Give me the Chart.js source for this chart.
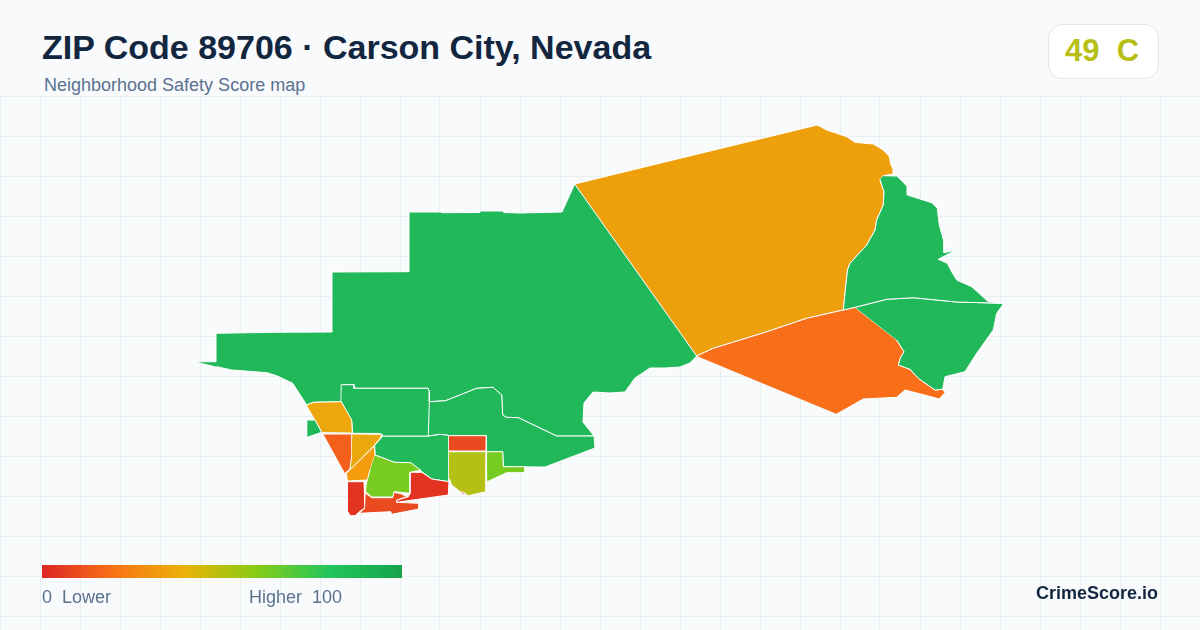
<!DOCTYPE html>
<html>
<head>
<meta charset="utf-8">
<title>ZIP Code 89706</title>
<script src="https://cdn.jsdelivr.net/npm/chart.js@4"></script>
<style>
  html, body { margin:0; padding:0; width:1200px; height:630px; overflow:hidden; background:#f8fafc; font-family:"Liberation Sans", Arial, sans-serif; }
  .txt { position:absolute; white-space:pre; line-height:1; z-index:2; }
  #title { left:42px; top:30px; font-size:34px; font-weight:700; color:#12263f; }
  #subtitle { left:44px; top:76px; font-size:18px; color:#5a7190; }
  #badge { position:absolute; left:1048px; top:24px; width:109px; height:53px; border:1px solid #e2e8f0; border-radius:14px; background:#fff; z-index:2; }
  #score { left:1065px; top:35px; font-size:31px; font-weight:700; color:#b7bf14; }
  #ramp { position:absolute; left:42px; top:565px; width:360px; height:13px; z-index:2;
    background:linear-gradient(90deg,#dc2626 0%,#f97316 20%,#eab308 40%,#84cc16 60%,#22c55e 80%,#16a34a 100%); }
  #lower { left:42px; top:588px; font-size:18px; color:#5a7190; }
  #higher { left:249px; top:588px; font-size:18px; color:#5a7190; }
  #brand { right:42px; top:584px; font-size:18px; font-weight:700; color:#12263f; }
  #wrap { position:absolute; left:0; top:96px; width:1200px; height:534px; }
</style>
</head>
<body>
<div id="title" class="txt">ZIP Code 89706 · Carson City, Nevada</div>
<div id="subtitle" class="txt">Neighborhood Safety Score map</div>
<div id="badge"></div>
<div id="score" class="txt">49  C</div>
<div id="wrap"><canvas id="map"></canvas></div>
<div id="ramp"></div>
<div id="lower" class="txt">0  Lower</div>
<div id="higher" class="txt">Higher  100</div>
<div id="brand" class="txt">CrimeScore.io</div>

<script>
// region outlines
const westMain = [[196.7,361.7],[216,361.7],[216,333.3],[273,332.3],[332,332],[332,272],[409,271.7],[409,212],[442,212],[442,212.7],[480,212.5],[480,211],[504,211],[504,212.5],[520,213],[562,212],[574.7,184],[696.7,356],[690,363],[680,367],[665,368],[650,368],[635,378],[625,392],[610,393],[593,392],[584,403],[583,422],[594,436],[556.7,436],[518.3,417.7],[506,417.3],[502.7,415],[501.7,395],[493,387.3],[476.7,388.3],[445.7,400.7],[429.3,401.7],[429.3,391.7],[428,388.3],[354,388.3],[354,384.7],[341.7,384.7],[341.3,401.7],[313.3,402.3],[306.7,405],[292.7,383.3],[276.7,375.7],[266.7,372.7],[231.7,370],[216.7,366.7]];
const boxGreen = [[341.7,384.7],[354,384.7],[354,388.3],[428,388.3],[429.3,391.7],[429.3,401.7],[428.3,436],[383.3,436],[380,433.5],[352.7,433.3],[351.7,421],[341.3,401.7]];
const midGreen = [[429.3,401.7],[445.7,400.7],[476.7,388.3],[493,387.3],[501.7,395],[502.7,415],[506,417.3],[518.3,417.7],[556.7,436],[594,436],[595,448],[545,467],[503.3,466.7],[502.7,451.7],[486.7,451.7],[486.3,435.7],[449,435.7],[447.7,435],[439.3,434.3],[428.3,436]];
const southGreen = [[383.3,436],[428.3,436],[439.3,434.3],[447.7,435],[449,435.7],[449,481.7],[431.7,479],[418.3,469],[410.7,462.7],[394.3,462.3],[375,455],[374.7,446]];
const smallGreen = [[307.3,420],[315,420],[321.7,432.3],[307.3,437.3]];
const squareRed = [[449,435.7],[486.3,435.7],[486.3,451],[449,451]];
const oliveBlock = [[449,451.7],[486.7,451.7],[486,491.7],[468.3,495.7],[460,491.7],[451.7,485],[449,478.3]];
const oliveSpeck = [[461,491.5],[465,493],[465.5,495],[462,493.5]];
const limeEast = [[486.7,451.7],[502.7,451.7],[503.3,466.7],[525,466.7],[525,472.7],[506.7,472.7],[487.3,481.7]];
const limeCenter = [[375,455],[394.3,462.3],[410.7,462.7],[420.7,470],[410,472.3],[410,493.3],[394.3,491.7],[392.7,497],[371.7,497],[365.7,491.7],[366,485],[370,470]];
const redEast = [[410,472.3],[421.7,472.3],[431.7,479],[449,481.7],[448.3,495],[396.7,502.3],[396.7,500.3],[408.3,496.7],[410,493.3]];
const redSouth = [[365.7,493.3],[371.7,497.7],[392.7,497.7],[393.3,492.3],[401,493.7],[403.3,495],[408,496],[396.7,500.3],[396.7,502.3],[419,503.3],[419,509],[391.7,514.3],[390.7,511.7],[359.3,513.3],[365,507.7]];
const redWest = [[348,481.7],[364,481.7],[365,507.7],[359.3,511.7],[355,515.7],[350,515.7],[348,511.7]];
const amberLow = [[346.7,473],[374.3,446],[375,455],[370,470],[368,480],[348,481]];
const amberMid = [[352.3,434],[382.3,434.3],[380,438.3],[374,445.7],[350,470],[351.7,455]];
const wedgeRed = [[323.3,434],[352.3,434],[352,458],[350,469],[345,473.3]];
const amberTop = [[306.7,405],[313.3,402.3],[341.3,401.7],[351.7,420],[352.3,433],[322.7,432.7]];
const amberNorth = [[574.7,184],[680,158.3],[817.3,125],[826.7,130],[846.7,136.7],[855,142.3],[873.3,144],[883.3,150],[889.3,156.7],[891,165],[893.3,170],[893.3,174],[883.3,175.7],[880,179.3],[881.7,185],[884,191.7],[883.3,205],[876.7,220],[875,230],[866.7,245],[850,263.3],[847.5,270],[845.7,286.7],[843.3,310],[806.7,318.3],[763,333],[713.3,348.3],[696.7,356]];
const eastNorth = [[883.3,175.7],[896.7,176],[902.7,181.7],[907.3,186.7],[907.3,195],[931.7,202.7],[937.3,208.3],[939.3,225],[944,241.7],[944,252.7],[956,250],[938.3,259.3],[947.3,263.3],[951.7,271.7],[956.7,280],[971.7,286.7],[988.3,301.7],[1003,303.3],[956.7,302],[913.3,297.7],[886.7,299.3],[855,307.3],[843.3,310],[845.7,286.7],[847.5,270],[850,263.3],[866.7,245],[875,230],[876.7,220],[883.3,205],[884,191.7],[881.7,185],[880,179.3]];
const eastSouth = [[855,307.3],[886.7,299.3],[913.3,297.7],[956.7,302],[1003,303.3],[1002.7,305],[996.7,313.3],[993.3,330],[976.7,353.3],[965,371.7],[945,376.7],[942.7,389.3],[935,390],[918.3,378.3],[910,369.3],[898.3,365],[900.7,357.3],[904,351.7],[896.7,340]];
const orangeSouth = [[696.7,356],[713.3,348.3],[763,333],[806.7,318.3],[843.3,310],[855,307.3],[896.7,340],[904,351.7],[900.7,357.3],[898.3,365],[910,369.3],[918.3,378.3],[935,390],[942.7,389.3],[945,392.7],[939.3,399],[928.3,396],[905,390],[896.7,397.3],[863.3,399],[836.7,414]];

// first entry is drawn on top
const outlines = [oliveSpeck, smallGreen, squareRed, oliveBlock, limeEast, limeCenter, redEast, redSouth, redWest, amberLow, amberMid, wedgeRed, amberTop, boxGreen, midGreen, southGreen, westMain, eastNorth, eastSouth, orangeSouth, amberNorth];
const fillColors = ['#e1331f','#21b85a','#ea4a20','#b4c014','#76cc20','#76cc20','#e1331f','#ea4a20','#e1331f','#f59c0e','#eaa80c','#f4601c','#eda60c','#21b85a','#21b85a','#21b85a','#21b85a','#21b85a','#21b85a','#f96e18','#ee9f0c'];
const gridColor = '#e8eff3';

const datasets = outlines.map((pts, i) => ({
  data: pts.map(p => ({x:p[0], y:p[1]})),
  showLine: true,
  fill: 'shape',
  backgroundColor: fillColors[i],
  borderColor: '#ffffff',
  borderWidth: 1,
  pointRadius: 0,
  pointHoverRadius: 0,
  tension: 0
}));

function gridTicks(start, end){
  const out = [];
  for(let v = start; v <= end; v += 40) out.push({value:v});
  return out;
}

new Chart(document.getElementById('map').getContext('2d'), {
  type: 'scatter',
  data: { datasets },
  options: {
    responsive: true,
    maintainAspectRatio: false,
    animation: false,
    events: [],
    layout: { padding: 0 },
    plugins: { legend:{display:false}, tooltip:{enabled:false} },
    scales: {
      x: {
        min: 0, max: 1200,
        afterBuildTicks: axis => { axis.ticks = gridTicks(0, 1200); },
        ticks: { display:false },
        border: { display:false },
        grid: { color:gridColor, lineWidth:1, drawTicks:false }
      },
      y: {
        min: 96, max: 630, reverse: true,
        afterBuildTicks: axis => { axis.ticks = gridTicks(96, 630); },
        ticks: { display:false },
        border: { display:false },
        grid: { color:gridColor, lineWidth:1, drawTicks:false }
      }
    }
  }
});
</script>
</body>
</html>
